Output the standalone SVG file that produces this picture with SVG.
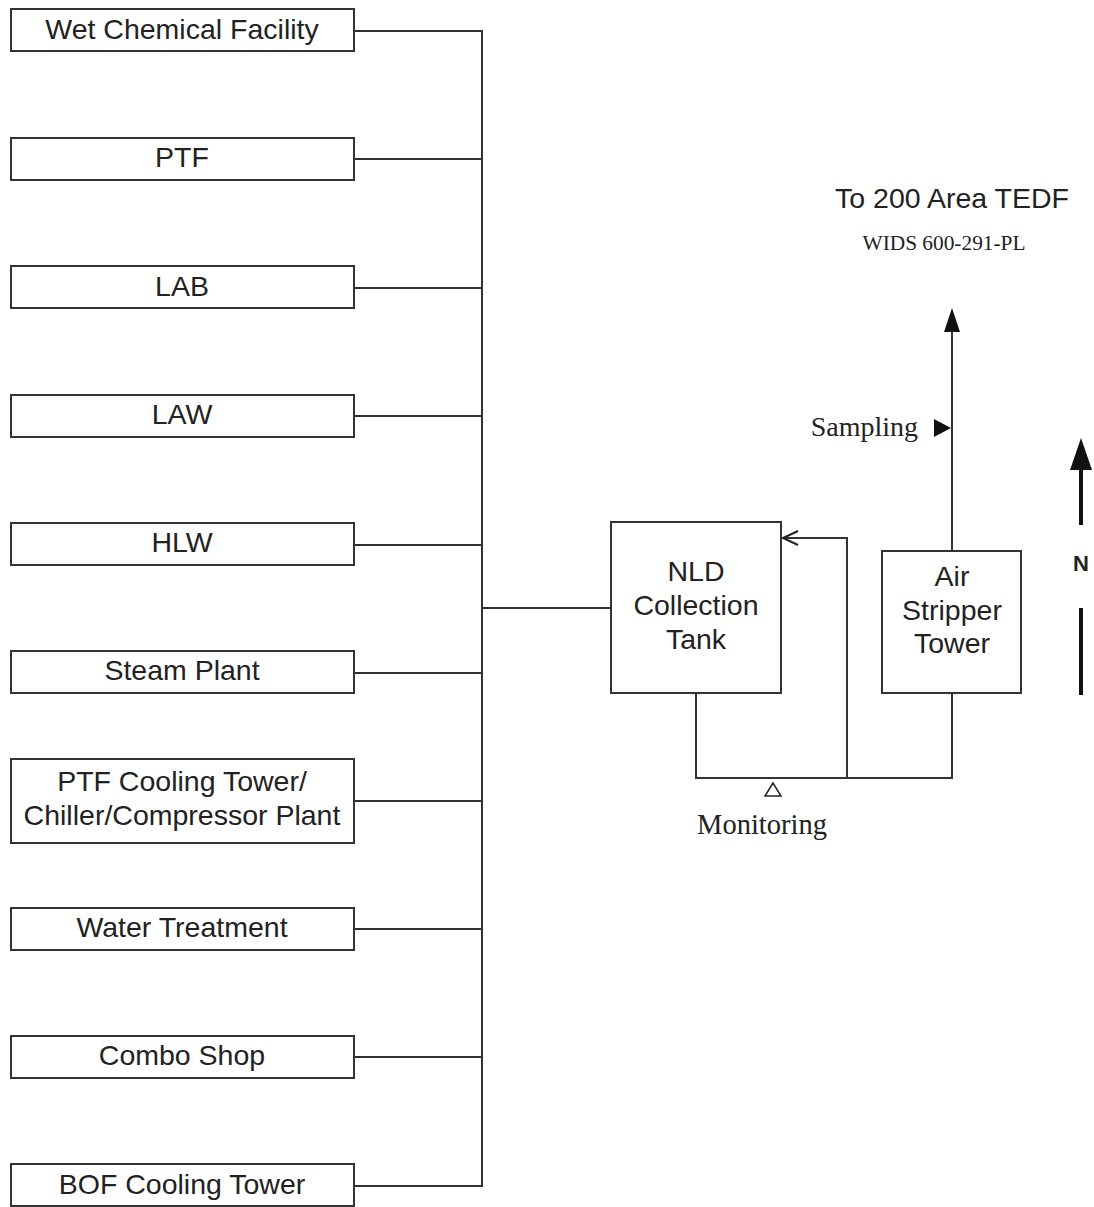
<svg xmlns="http://www.w3.org/2000/svg" width="1094" height="1207" viewBox="0 0 1094 1207">
<style>
.box{fill:#fff;stroke:#333;stroke-width:2}
.t{font-family:"Liberation Sans",Arial,sans-serif;font-size:28.5px;fill:#222;text-anchor:middle}
.s{font-family:"Liberation Serif","Times New Roman",serif;fill:#222}
.ln{fill:none;stroke:#333;stroke-width:2}
</style>
<defs>
<marker id="open" markerWidth="20" markerHeight="20" refX="16" refY="8" orient="auto" markerUnits="userSpaceOnUse">
<path d="M1,1 L16,8 L1,15" fill="none" stroke="#222" stroke-width="2"/>
</marker>
</defs>
<rect width="1094" height="1207" fill="#fff"/>
<g id="connectors">
<path class="ln" d="M354,31 H482 V1186 H354"/>
<path class="ln" d="M354,159 H482 M354,288 H482 M354,416 H482 M354,545 H482 M354,673 H482 M354,801 H482 M354,929 H482 M354,1057 H482"/>
<path class="ln" d="M482,608 H611"/>
<path class="ln" d="M696,693 V778 H952 V693"/>
<path class="ln" d="M847,778 V538 H783" marker-end="url(#open)"/>
<path class="ln" d="M952,551 V330"/>
<polygon points="952,308 944,332 960,332" fill="#111"/>
<polygon points="934,419 951,428 934,437" fill="#111"/>
<polygon points="773,783 765,796 781,796" fill="#fff" stroke="#222" stroke-width="1.5"/>
<line x1="1081" y1="465" x2="1081" y2="525" stroke="#111" stroke-width="4"/>
<polygon points="1081,438 1070,470 1092,470" fill="#111"/>
<line x1="1081" y1="608" x2="1081" y2="695" stroke="#111" stroke-width="4"/>
</g>
<g id="n-wet"><rect class="box" x="11" y="9" width="343" height="42"/><text class="t" x="182" y="39">Wet Chemical Facility</text></g>
<g id="n-ptf"><rect class="box" x="11" y="138" width="343" height="42"/><text class="t" x="182" y="167">PTF</text></g>
<g id="n-lab"><rect class="box" x="11" y="266" width="343" height="42"/><text class="t" x="182" y="296">LAB</text></g>
<g id="n-law"><rect class="box" x="11" y="395" width="343" height="42"/><text class="t" x="182" y="424">LAW</text></g>
<g id="n-hlw"><rect class="box" x="11" y="523" width="343" height="42"/><text class="t" x="182" y="552">HLW</text></g>
<g id="n-steam"><rect class="box" x="11" y="651" width="343" height="42"/><text class="t" x="182" y="680">Steam Plant</text></g>
<g id="n-ptfct"><rect class="box" x="11" y="759" width="343" height="84"/><text class="t" x="182" y="791">PTF Cooling Tower/</text><text class="t" x="182" y="825">Chiller/Compressor Plant</text></g>
<g id="n-water"><rect class="box" x="11" y="908" width="343" height="42"/><text class="t" x="182" y="937">Water Treatment</text></g>
<g id="n-combo"><rect class="box" x="11" y="1036" width="343" height="42"/><text class="t" x="182" y="1065">Combo Shop</text></g>
<g id="n-bof"><rect class="box" x="11" y="1164" width="343" height="42"/><text class="t" x="182" y="1194">BOF Cooling Tower</text></g>
<g id="n-nld"><rect class="box" x="611" y="522" width="170" height="171"/><text class="t" x="696" y="581">NLD</text><text class="t" x="696" y="615">Collection</text><text class="t" x="696" y="649">Tank</text></g>
<g id="n-air"><rect class="box" x="882" y="551" width="139" height="142"/><text class="t" x="952" y="586">Air</text><text class="t" x="952" y="620">Stripper</text><text class="t" x="952" y="653">Tower</text></g>
<g id="labels">
<text class="t" x="952" y="208" font-size="29">To 200 Area TEDF</text>
<text class="s" x="944" y="250" font-size="20" text-anchor="middle" textLength="163" lengthAdjust="spacingAndGlyphs">WIDS 600-291-PL</text>
<text class="s" x="918" y="436" font-size="28" text-anchor="end">Sampling</text>
<text class="s" x="762" y="834" font-size="28.5" text-anchor="middle">Monitoring</text>
<text x="1081" y="571" font-family="Liberation Sans,Arial,sans-serif" font-size="22" font-weight="bold" fill="#222" text-anchor="middle">N</text>
</g>
</svg>
